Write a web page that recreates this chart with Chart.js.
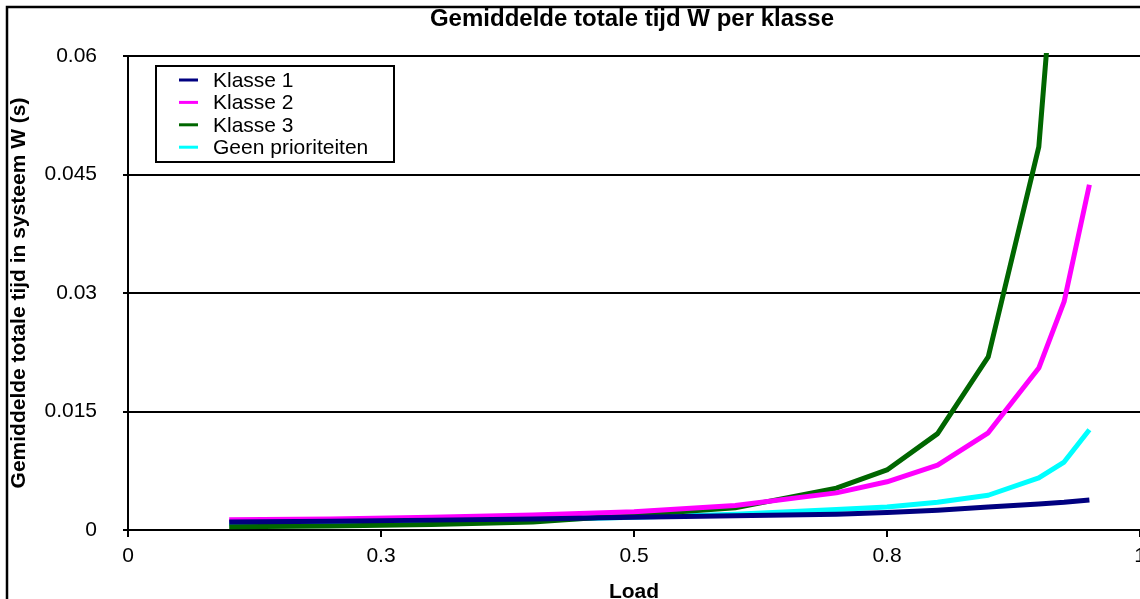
<!DOCTYPE html>
<html>
<head>
<meta charset="utf-8">
<script src="https://cdn.jsdelivr.net/npm/chart.js@4.4.1/dist/chart.umd.min.js"></script>
<style>
  html, body { margin: 0; padding: 0; background: #ffffff; }
  #wrap { width: 1140px; height: 599px; }
</style>
</head>
<body>
<div id="wrap"><canvas id="c" width="1140" height="599"></canvas></div>
<script>
// ---- data ----
const loads = [0.1, 0.2, 0.3, 0.4, 0.5, 0.6, 0.7, 0.75, 0.8, 0.85, 0.9, 0.925, 0.95];
const klasse1 = [0.0010, 0.0011, 0.00125, 0.0014, 0.0016, 0.0018, 0.0020, 0.0022, 0.0025, 0.0029, 0.0033, 0.0035, 0.0038];
const klasse2 = [0.0013, 0.0014, 0.0016, 0.0019, 0.0023, 0.0031, 0.0047, 0.0061, 0.0082, 0.0123, 0.0205, 0.0289, 0.0437];
const klasse3 = [0.0004, 0.0005, 0.0007, 0.0010, 0.0019, 0.0028, 0.0053, 0.0076, 0.0122, 0.0219, 0.0485, 0.088, null];
const geenPrioriteiten = [0.0008, 0.0009, 0.0011, 0.0013, 0.0016, 0.0020, 0.0026, 0.0029, 0.0035, 0.0044, 0.0066, 0.0086, 0.0127];
const seriesNames = ['Klasse 1', 'Klasse 2', 'Klasse 3', 'Geen prioriteiten'];
const seriesColors = ['#000080', '#FF00FF', '#006600', '#00FFFF'];
const xTickLabels = ['0', '0.3', '0.5', '0.8', '1'];
const yTickLabels = ['0', '0.015', '0.03', '0.045', '0.06'];
const chartTitle = 'Gemiddelde totale tijd W per klasse';
const xTitle = 'Load';
const yTitle = 'Gemiddelde totale tijd in systeem W (s)';

const FONT = '"Liberation Sans", Arial, Helvetica, sans-serif';
const allSeries = [klasse1, klasse2, klasse3, geenPrioriteiten];

function toPoints(vals) {
  return loads.map((x, i) => ({ x: x, y: vals[i] }));
}

const datasets = allSeries.map((vals, i) => ({
  label: seriesNames[i],
  data: toPoints(vals),
  borderColor: seriesColors[i],
  backgroundColor: seriesColors[i],
  borderWidth: 5,
  pointRadius: 0,
  tension: 0,
  fill: false,
  spanGaps: false,
  borderCapStyle: 'butt',
  borderJoinStyle: 'round',
  clip: { left: 5, top: 3, right: 5, bottom: 5 }
}));

const decorPlugin = {
  id: 'decor',
  afterDraw(chart) {
    const ctx = chart.ctx;
    ctx.save();
    // outer border
    ctx.strokeStyle = '#000';
    ctx.lineWidth = 2.5;
    ctx.strokeRect(7, 7, 1160, 620);

    ctx.fillStyle = '#000';
    // title
    ctx.font = 'bold 24px ' + FONT;
    ctx.textAlign = 'center';
    ctx.textBaseline = 'alphabetic';
    ctx.fillText(chartTitle, 632, 26);

    // x axis title
    ctx.font = 'bold 21px ' + FONT;
    ctx.fillText(xTitle, 634, 598);

    // y axis title
    ctx.save();
    ctx.translate(25, 293);
    ctx.rotate(-Math.PI / 2);
    ctx.fillText(yTitle, 0, 0);
    ctx.restore();

    // legend
    const lx = 156, ly = 66, lw = 238, lh = 96;
    ctx.fillStyle = '#fff';
    ctx.fillRect(lx, ly, lw, lh);
    ctx.strokeStyle = '#000';
    ctx.lineWidth = 2;
    ctx.strokeRect(lx, ly, lw, lh);
    ctx.font = '21px ' + FONT;
    ctx.textAlign = 'left';
    ctx.textBaseline = 'middle';
    seriesNames.forEach((name, i) => {
      const yy = 80 + i * 22.4;
      ctx.strokeStyle = seriesColors[i];
      ctx.lineWidth = 3;
      ctx.beginPath();
      ctx.moveTo(179, yy);
      ctx.lineTo(198, yy);
      ctx.stroke();
      ctx.fillStyle = '#000';
      ctx.fillText(name, 213, yy + 1);
    });
    ctx.restore();
  }
};

new Chart(document.getElementById('c'), {
  type: 'line',
  data: { datasets: datasets },
  options: {
    responsive: false,
    devicePixelRatio: 1,
    animation: false,
    layout: { padding: { top: 56, left: 0, right: 0, bottom: 0 } },
    plugins: {
      legend: { display: false },
      title: { display: false },
      tooltip: { enabled: false }
    },
    scales: {
      x: {
        type: 'linear',
        min: 0,
        max: 1,
        afterFit(scale) { scale.height = 69; scale.paddingLeft = 0; scale.paddingRight = 0; },
        afterBuildTicks(scale) { scale.ticks = [0, 0.25, 0.5, 0.75, 1].map(v => ({ value: v })); },
        ticks: {
          autoSkip: false,
          maxRotation: 0,
          padding: 7,
          color: '#000',
          font: { family: FONT, size: 21 },
          callback: (v, i) => xTickLabels[i]
        },
        grid: { drawOnChartArea: false, drawTicks: true, tickLength: 7, color: '#000', lineWidth: 2 },
        border: { display: true, color: '#000', width: 2 }
      },
      y: {
        type: 'linear',
        min: 0,
        max: 0.06,
        afterFit(scale) { scale.width = 128; },
        afterBuildTicks(scale) { scale.ticks = [0, 0.015, 0.03, 0.045, 0.06].map(v => ({ value: v })); },
        ticks: {
          autoSkip: false,
          padding: 26,
          color: '#000',
          font: { family: FONT, size: 21 },
          callback: (v, i) => yTickLabels[i]
        },
        grid: { drawOnChartArea: true, drawTicks: true, tickLength: 5, color: '#000', lineWidth: 2 },
        border: { display: true, color: '#000', width: 2 }
      }
    }
  },
  plugins: [decorPlugin]
});
</script>
</body>
</html>
